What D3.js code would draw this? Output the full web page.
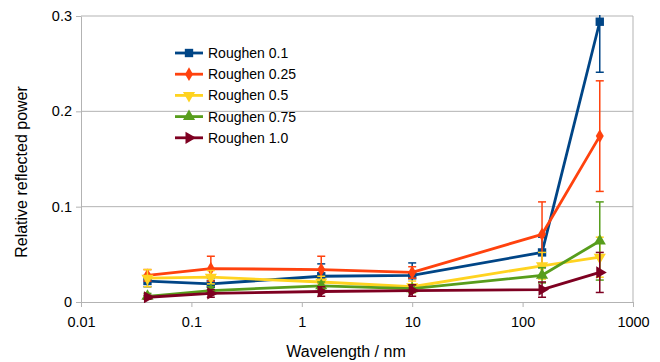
<!DOCTYPE html>
<html lang="en">
<head>
<meta charset="UTF-8">
<title>Relative reflected power vs wavelength</title>
<script src="https://d3js.org/d3.v7.min.js"></script>
<style>
    body { margin: 0; background: #fff; }
    svg text { font-family: "Liberation Sans", Arial, sans-serif; fill: #000; }
    .axis path, .axis line { stroke: #b3b3b3; }
    .grid line { stroke: #b3b3b3; }
</style>
</head>
<body>
<svg width="660" height="362"></svg>
<script>
    // wavelengths (nm) and the measured series
    const wavelengths = [0.04, 0.15, 1.5, 10, 150, 500];
    const seriesNames = ["Roughen 0.1", "Roughen 0.25", "Roughen 0.5", "Roughen 0.75", "Roughen 1.0"];
    const rough01 = [0.022, 0.019, 0.027, 0.028, 0.052, 0.294];
    const rough025 = [0.028, 0.035, 0.034, 0.031, 0.071, 0.174];
    const rough05 = [0.025, 0.026, 0.021, 0.016, 0.038, 0.047];
    const rough075 = [0.006, 0.012, 0.017, 0.014, 0.028, 0.064];
    const rough10 = [0.005, 0.009, 0.011, 0.012, 0.013, 0.031];
    // error bar half-widths
    const err01 = [0.006, 0.006, 0.013, 0.013, 0.016, 0.053];
    const err025 = [0.006, 0.013, 0.014, 0.006, 0.034, 0.058];
    const err05 = [0.009, 0.007, 0.006, 0.006, 0.014, 0.021];
    const err075 = [0.003, 0.004, 0.004, 0.004, 0.008, 0.041];
    const err10 = [0.002, 0.004, 0.005, 0.006, 0.008, 0.021];
    const xTicks = [0.01, 0.1, 1, 10, 100, 1000];
    const xTickLabels = ["0.01", "0.1", "1", "10", "100", "1000"];
    const yTicks = [0, 0.1, 0.2, 0.3];
    const yTickLabels = ["0", "0.1", "0.2", "0.3"];

    const colors = ["#004586", "#ff420e", "#ffd320", "#579d1c", "#7e0021"];
    const values = [rough01, rough025, rough05, rough075, rough10];
    const errors = [err01, err025, err05, err075, err10];

    const plotLeft = 81, plotRight = 633, plotTop = 16, plotBottom = 302;
    const svg = d3.select("svg");

    const x = d3.scaleLog().domain([0.01, 1000]).range([plotLeft, plotRight]);
    const y = d3.scaleLinear().domain([0, 0.3]).range([plotBottom, plotTop]);

    // horizontal grid lines and right border
    svg.append("g").attr("class", "grid")
        .selectAll("line").data(yTicks.slice(1)).join("line")
        .attr("x1", plotLeft).attr("x2", plotRight)
        .attr("y1", d => y(d)).attr("y2", d => y(d));
    svg.append("line")
        .attr("x1", plotRight).attr("x2", plotRight).attr("y1", plotTop).attr("y2", plotBottom)
        .attr("stroke", "#b3b3b3");

    // axes
    svg.append("g").attr("class", "axis")
        .attr("transform", `translate(0,${plotBottom})`)
        .call(d3.axisBottom(x).tickValues(xTicks).tickSize(5).tickSizeOuter(0).tickPadding(10)
            .tickFormat((d, i) => xTickLabels[i]))
        .selectAll("text").attr("font-size", 14.5);

    svg.append("g").attr("class", "axis")
        .attr("transform", `translate(${plotLeft},0)`)
        .call(d3.axisLeft(y).tickValues(yTicks).tickSize(5).tickSizeOuter(0).tickPadding(4)
            .tickFormat((d, i) => yTickLabels[i]))
        .selectAll("text").attr("font-size", 14.5);

    // titles are centred on the axis plus its labels
    svg.append("text")
        .attr("x", 346).attr("y", 357)
        .attr("text-anchor", "middle").attr("font-size", 16)
        .text("Wavelength / nm");

    svg.append("text")
        .attr("transform", "translate(27,172) rotate(-90)")
        .attr("text-anchor", "middle").attr("font-size", 16)
        .text("Relative reflected power");

    // clip so bars above 0.3 get cut
    svg.append("clipPath").attr("id", "plot")
        .append("rect").attr("x", plotLeft).attr("y", plotTop - 1)
        .attr("width", plotRight - plotLeft).attr("height", plotBottom - plotTop + 2);

    const symbols = [
        d3.symbol().type(d3.symbolSquare).size(70),
        d3.symbol().type(d3.symbolDiamond).size(55),
        d3.symbol().type(d3.symbolTriangle).size(64),
        d3.symbol().type(d3.symbolTriangle).size(64),
        d3.symbol().type(d3.symbolTriangle).size(64)
    ];
    const rotations = [0, 0, 180, 0, 90];

    const line = d3.line().x(d => x(d[0])).y(d => y(d[1]));
    const plot = svg.append("g").attr("clip-path", "url(#plot)");

    values.forEach((vals, s) => {
        const pts = wavelengths.map((w, i) => [w, vals[i], errors[s][i]]);
        const g = plot.append("g");

        // error bars
        const eb = g.selectAll(".eb").data(pts).join("g").attr("stroke", colors[s]).attr("stroke-width", 1.5);
        eb.append("line")
            .attr("x1", d => x(d[0])).attr("x2", d => x(d[0]))
            .attr("y1", d => y(d[1] - d[2])).attr("y2", d => y(d[1] + d[2]));
        eb.append("line")
            .attr("x1", d => x(d[0]) - 4).attr("x2", d => x(d[0]) + 4)
            .attr("y1", d => y(d[1] - d[2])).attr("y2", d => y(d[1] - d[2]));
        eb.append("line")
            .attr("x1", d => x(d[0]) - 4).attr("x2", d => x(d[0]) + 4)
            .attr("y1", d => y(d[1] + d[2])).attr("y2", d => y(d[1] + d[2]));

        g.append("path").datum(pts)
            .attr("fill", "none").attr("stroke", colors[s]).attr("stroke-width", 2.8)
            .attr("stroke-linejoin", "round")
            .attr("d", line);

        g.selectAll(".mk").data(pts).join("path")
            .attr("fill", colors[s])
            .attr("transform", d => `translate(${x(d[0])},${y(d[1])}) rotate(${rotations[s]})`)
            .attr("d", symbols[s]());
    });

    // legend
    const legend = svg.append("g");
    seriesNames.forEach((name, s) => {
        const ly = 53 + s * 21.2;
        legend.append("line")
            .attr("x1", 175).attr("x2", 203).attr("y1", ly).attr("y2", ly)
            .attr("stroke", colors[s]).attr("stroke-width", 2.8);
        legend.append("path")
            .attr("fill", colors[s])
            .attr("transform", `translate(189,${ly}) rotate(${rotations[s]})`)
            .attr("d", symbols[s]());
        legend.append("text")
            .attr("x", 208).attr("y", ly + 5).attr("font-size", 14)
            .text(name);
    });
</script>
</body>
</html>
